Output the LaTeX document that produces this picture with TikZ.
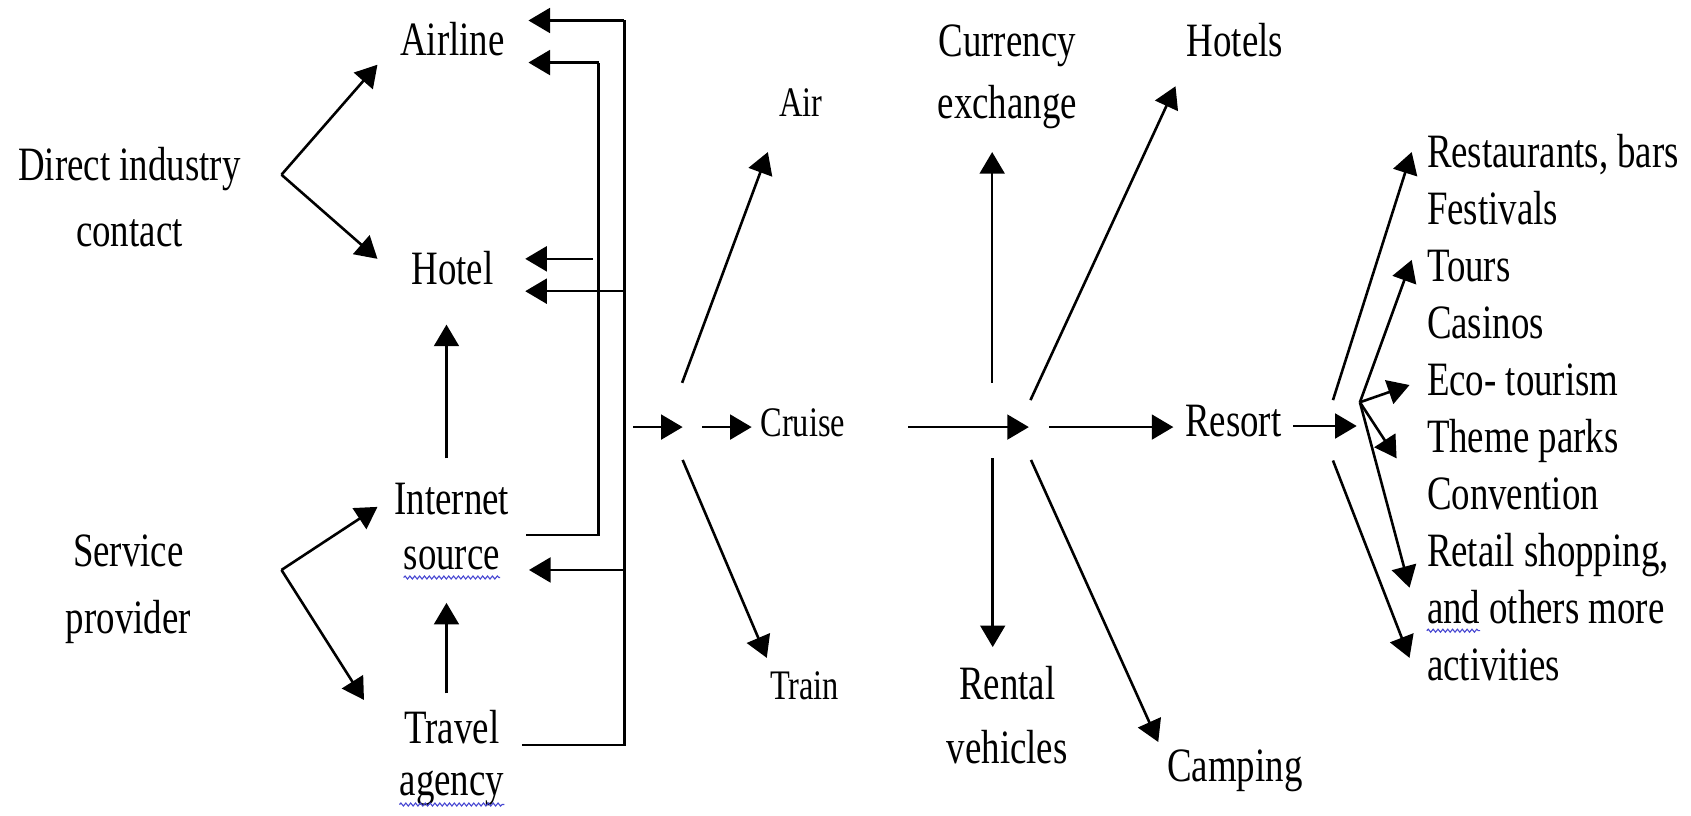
\documentclass[tikz,border=0pt]{standalone}
\usepackage{fontspec}
\setmainfont{Liberation Serif}[FakeStretch=0.77]
\usetikzlibrary{arrows.meta,decorations.pathmorphing}
\definecolor{spell}{RGB}{70,70,210}
\begin{document}
\begin{tikzpicture}[x=1pt,y=-1pt,
 txt/.style={inner sep=0pt,anchor=base,font=\fontsize{44.4}{53}\selectfont},
 stxt/.style={inner sep=0pt,anchor=base,font=\fontsize{39}{47}\selectfont},
 ltxt/.style={txt,anchor=base west},
 arr/.style={line width=2.4pt,-{Triangle[length=20pt,width=23pt]}},
 ln/.style={line width=2.1pt},
 wavy/.style={spell,line width=1pt,decorate,decoration={snake,segment length=4.5pt,amplitude=1.4pt}}]
\fill[white] (0,0) rectangle (1568,756);
\useasboundingbox (0,0) rectangle (1568,756);

% ---------- left texts ----------
\node[txt] (airline) at (419.5,51) {Airline};
\node[txt] (hotel) at (419.5,264) {Hotel};
\node[txt] (inet1) at (419,477) {Internet};
\node[txt] (inet2) at (419,528.5) {source};
\node[txt] (trav1) at (419,689) {Travel};
\node[txt] (trav2) at (419,738) {agency};
\node[txt] (dic1) at (120,167) {Direct industry};
\node[txt] (dic2) at (120,229) {contact};
\node[txt] (sp1) at (119,525.5) {Service};
\node[txt] (sp2) at (119,587) {provider};

\draw[wavy] ([yshift=-7pt]inet2.base west) -- ([yshift=-7pt]inet2.base east);
\draw[wavy] ([yshift=-8pt]trav2.base west) -- ([yshift=-8pt]trav2.base east);

% ---------- middle texts ----------
\node[stxt] (air) at (742.5,108) {Air};
\node[stxt,anchor=base west] (cruise) at (705,405) {Cruise};
\node[stxt] (train) at (746,649) {Train};
\node[txt] (cur1) at (934,52.5) {Currency};
\node[txt] (cur2) at (934,110) {exchange};
\node[txt] (hotels) at (1145,52.5) {Hotels};
\node[txt] (resort) at (1143.6,405) {Resort};
\node[txt] (ren1) at (934,649) {Rental};
\node[txt] (ren2) at (934,708) {vehicles};
\node[txt] (camp) at (1145,725) {Camping};

% ---------- right list ----------
\node[ltxt] (l1) at (1323,155) {Restaurants, bars};
\node[ltxt] (l2) at (1323,207.85) {Festivals};
\node[ltxt] (l3) at (1323,260.7) {Tours};
\node[ltxt] (l4) at (1323,313.55) {Casinos};
\node[ltxt] (l5) at (1323,366.4) {Eco- tourism};
\node[ltxt] (l6) at (1323,419.25) {Theme parks};
\node[ltxt] (l7) at (1323,472.1) {Convention};
\node[ltxt] (l8) at (1323,524.95) {Retail shopping,};
\node[ltxt] (l9) at (1323,577.8) {and others more};
\node[ltxt] (l10) at (1323,630.65) {activities};
\draw[wavy] ([yshift=-7pt]l9.base west) -- ++(49.4,0);

% ---------- coordinates ----------
\coordinate (dicB) at (261,162);
\coordinate (dicU) at (350,60);
\coordinate (dicD) at (350,240);
\coordinate (spB) at (261,528.5);
\coordinate (spU) at (350,470);
\coordinate (spD) at (337.5,649);
\coordinate (hUb) at (414,425);
\coordinate (hUt) at (414,301);
\coordinate (iUb) at (414,643);
\coordinate (iUt) at (414,559);
\coordinate (travR) at (484,691);
\coordinate (oB) at (579,691);
\coordinate (oT) at (579,19);
\coordinate (airT1) at (490,19);
\coordinate (oH) at (579,270);
\coordinate (hotT2) at (487,270);
\coordinate (oS) at (579,528.5);
\coordinate (srcT) at (490.5,528.5);
\coordinate (inetR) at (488,496);
\coordinate (iB) at (555,496);
\coordinate (iT) at (555,58);
\coordinate (airT2) at (490,58);
\coordinate (hotS1) at (550,240);
\coordinate (hotT1) at (487,240);
\coordinate (m1a) at (587,396);
\coordinate (m1b) at (633,396);
\coordinate (m2a) at (651,396);
\coordinate (m2b) at (697,396);
\coordinate (airA) at (632.5,355);
\coordinate (airB) at (712,141);
\coordinate (trA) at (633,426.5);
\coordinate (trB) at (711,610);
\coordinate (m3a) at (842,396);
\coordinate (m3b) at (954,396);
\coordinate (curA) at (920,355);
\coordinate (curB) at (920,141);
\coordinate (hsA) at (955.5,371);
\coordinate (hsB) at (1090,80);
\coordinate (m4a) at (973,396);
\coordinate (m4b) at (1088,396);
\coordinate (renA) at (920.5,425);
\coordinate (renB) at (920.5,600);
\coordinate (caA) at (956,426.5);
\coordinate (caB) at (1074,688);
\coordinate (m5a) at (1199,395);
\coordinate (m5b) at (1258,395);
\coordinate (upA) at (1236,371);
\coordinate (upB) at (1309,141);
\coordinate (br) at (1261,373);
\coordinate (toT) at (1309,241);
\coordinate (toE) at (1307,357);
\coordinate (toTh) at (1295,425);
\coordinate (toR) at (1307,545);
\coordinate (dnA) at (1236,427);
\coordinate (dnB) at (1307,610);

% ---------- left connectors ----------
\draw[arr] (dicB) -- (dicU);
\draw[arr] (dicB) -- (dicD);
\draw[arr] (spB) -- (spU);
\draw[arr] (spB) -- (spD);
\draw[arr] (hUb) -- (hUt);
\draw[arr] (iUb) -- (iUt);
\draw[ln] (travR) -- (oB) -- (oT);
\draw[arr] (oT) -- (airT1);
\draw[arr] (oH) -- (hotT2);
\draw[arr] (oS) -- (srcT);
\draw[ln] (inetR) -- (iB) -- (iT);
\draw[arr] (iT) -- (airT2);
\draw[arr] (hotS1) -- (hotT1);

% ---------- middle connectors ----------
\draw[arr] (m1a) -- (m1b);
\draw[arr] (m2a) -- (m2b);
\draw[arr] (airA) -- (airB);
\draw[arr] (trA) -- (trB);
\draw[arr] (m3a) -- (m3b);
\draw[arr] (curA) -- (curB);
\draw[arr] (hsA) -- (hsB);
\draw[arr] (m4a) -- (m4b);
\draw[arr] (renA) -- (renB);
\draw[arr] (caA) -- (caB);

% ---------- right connectors ----------
\draw[arr] (m5a) -- (m5b);
\draw[arr] (upA) -- (upB);
\draw[arr] (br) -- (toT);
\draw[arr] (br) -- (toE);
\draw[arr] (br) -- (toTh);
\draw[arr] (br) -- (toR);
\draw[arr] (dnA) -- (dnB);
\end{tikzpicture}
\end{document}
